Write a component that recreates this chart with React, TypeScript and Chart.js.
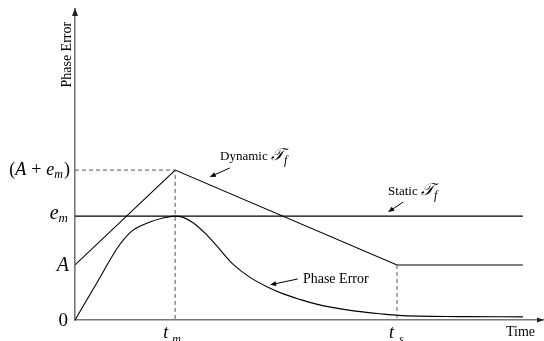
import React, { useEffect, useRef } from "react";
import { Chart, registerables } from "chart.js";

Chart.register(...registerables);

// Axis extents (arbitrary schematic units)
const X_MIN = 0;
const X_MAX = 100;
const Y_MIN = 0;
const Y_MAX = 100;

// Key instants on the time axis
const tm = 21.4;
const ts = 68.8;
const tEnd = 95.7;

// Key levels on the phase-error axis
const A = 17.7;
const em = 33.4;
const Aem = 48.2;

// Dynamic threshold
const dynamicX = [0, tm, ts, tEnd];
const dynamicY = [A, Aem, A, A];

// Static threshold
const staticX = [0, tEnd];
const staticY = [em, em];

// Phase error curve
const errX = [0, 4.5, 8.8, 10.3, 12.4, 16.0, 19.0, 21.4, 23.1, 25.3, 28.0, 30.3, 32.0, 33.8, 37.4, 41.0, 44.5, 48.1, 51.6, 58.8, 65.9, 69.1, 82.3, 95.7];
const errY = [0, 11.5, 22.6, 25.7, 28.9, 31.5, 32.9, 33.4, 33.0, 31.2, 27.6, 23.8, 20.8, 17.9, 13.7, 10.7, 8.4, 6.6, 5.1, 3.1, 1.9, 1.5, 1.1, 1.0];

// Dashed guides
const guideMX = [0, tm, tm];
const guideMY = [Aem, Aem, 0];
const guideSX = [ts, ts];
const guideSY = [A, 0];

const pts = (xs: number[], ys: number[]) => xs.map((x, i) => ({ x, y: ys[i] }));

const SERIF = "'Liberation Serif', 'DejaVu Serif', serif";

type Seg = { t: string; size: number; italic?: boolean; dy?: number; gap?: number };

function drawRich(ctx: CanvasRenderingContext2D, x: number, y: number, segs: Seg[], align: "left" | "right" | "center") {
  ctx.save();
  ctx.textBaseline = "alphabetic";
  ctx.textAlign = "left";
  let total = 0;
  const widths = segs.map((s) => {
    ctx.font = `${s.italic ? "italic " : ""}${s.size}px ${SERIF}`;
    const w = ctx.measureText(s.t).width + (s.gap || 0);
    total += w;
    return w;
  });
  let cx = align === "left" ? x : align === "right" ? x - total : x - total / 2;
  segs.forEach((s, i) => {
    ctx.font = `${s.italic ? "italic " : ""}${s.size}px ${SERIF}`;
    ctx.fillText(s.t, cx, y + (s.dy || 0));
    cx += widths[i];
  });
  ctx.restore();
}

function arrow(ctx: CanvasRenderingContext2D, x1: number, y1: number, x2: number, y2: number, len = 6, half = 2.5) {
  const ang = Math.atan2(y2 - y1, x2 - x1);
  ctx.save();
  ctx.strokeStyle = "#000";
  ctx.fillStyle = "#000";
  ctx.lineWidth = 1;
  ctx.beginPath();
  ctx.moveTo(x1, y1);
  ctx.lineTo(x2 - Math.cos(ang) * len * 0.6, y2 - Math.sin(ang) * len * 0.6);
  ctx.stroke();
  ctx.beginPath();
  ctx.moveTo(x2, y2);
  ctx.lineTo(x2 - Math.cos(ang) * len - Math.sin(ang) * half, y2 - Math.sin(ang) * len + Math.cos(ang) * half);
  ctx.lineTo(x2 - Math.cos(ang) * len + Math.sin(ang) * half, y2 - Math.sin(ang) * len - Math.cos(ang) * half);
  ctx.closePath();
  ctx.fill();
  ctx.restore();
}

const CAL_T = "\u{1D4AF}";

const overlay = {
  id: "overlay",
  afterDraw(chart: any) {
    const ctx: CanvasRenderingContext2D = chart.ctx;
    const xs = chart.scales.x;
    const ys = chart.scales.y;
    const px = (v: number) => xs.getPixelForValue(v);
    const py = (v: number) => ys.getPixelForValue(v);
    const area = chart.chartArea;

    // axis arrows
    ctx.save();
    ctx.fillStyle = "#222";
    ctx.beginPath();
    ctx.moveTo(area.left, area.top - 1);
    ctx.lineTo(area.left - 3, area.top + 7);
    ctx.lineTo(area.left + 3, area.top + 7);
    ctx.closePath();
    ctx.fill();
    ctx.beginPath();
    ctx.moveTo(area.right + 1, area.bottom);
    ctx.lineTo(area.right - 6, area.bottom - 2.5);
    ctx.lineTo(area.right - 6, area.bottom + 2.5);
    ctx.closePath();
    ctx.fill();
    ctx.restore();

    ctx.fillStyle = "#000";
    // y tick labels
    const rx = area.left - 7;
    drawRich(ctx, rx, py(0) + 6, [{ t: "0", size: 19 }], "right");
    drawRich(ctx, rx + 1, py(A) + 6, [{ t: "A", size: 20, italic: true }], "right");
    drawRich(ctx, rx, py(em) + 3, [
      { t: "e", size: 20, italic: true },
      { t: "m", size: 13, italic: true, dy: 3 },
    ], "right");
    drawRich(ctx, rx + 2, py(Aem) + 5, [
      { t: "(", size: 18 },
      { t: "A", size: 18, italic: true, gap: 5 },
      { t: "+", size: 18, gap: 5 },
      { t: "e", size: 18, italic: true },
      { t: "m", size: 12, italic: true, dy: 3, gap: 1 },
      { t: ")", size: 18 },
    ], "right");

    // x tick labels
    drawRich(ctx, px(tm) - 12, area.bottom + 18, [
      { t: "t", size: 18, italic: true, gap: 4 },
      { t: "m", size: 12, italic: true, dy: 5 },
    ], "left");
    drawRich(ctx, px(ts) - 8, area.bottom + 18, [
      { t: "t", size: 18, italic: true, gap: 5 },
      { t: "s", size: 12, italic: true, dy: 5 },
    ], "left");

    // axis titles
    drawRich(ctx, area.right - 37, area.bottom + 16, [{ t: "Time", size: 14 }], "left");
    ctx.save();
    ctx.translate(area.left - 4, py(85.3));
    ctx.rotate(-Math.PI / 2);
    drawRich(ctx, 0, 0, [{ t: "Phase Error", size: 14 }], "center");
    ctx.restore();

    // annotations
    drawRich(ctx, px(31.0), py(51.4), [
      { t: "Dynamic ", size: 13 },
      { t: CAL_T, size: 17, italic: true },
      { t: "f", size: 12, italic: true, dy: 4 },
    ], "left");
    arrow(ctx, px(33.1), py(48.9), px(28.8), py(46.0));

    drawRich(ctx, px(66.9), py(40.2), [
      { t: "Static ", size: 13 },
      { t: CAL_T, size: 17, italic: true },
      { t: "f", size: 12, italic: true, dy: 4 },
    ], "left");
    arrow(ctx, px(70.1), py(37.9), px(66.9), py(34.7));

    drawRich(ctx, px(48.7), py(11.9), [{ t: "Phase Error", size: 14 }], "left");
    arrow(ctx, px(47.6), py(13.2), px(41.7), py(11.3));
  },
};

export default function App() {
  const ref = useRef<HTMLCanvasElement | null>(null);
  useEffect(() => {
    if (!ref.current) return;
    const solid = { borderColor: "#000", borderWidth: 1.1, pointRadius: 0, tension: 0, fill: false };
    const dashed = { borderColor: "#555", borderWidth: 1, borderDash: [4, 3], pointRadius: 0, tension: 0, fill: false };
    const chart = new Chart(ref.current, {
      type: "line",
      data: {
        datasets: [
          { ...dashed, label: "guide tm", data: pts(guideMX, guideMY) },
          { ...dashed, label: "guide ts", data: pts(guideSX, guideSY) },
          { ...solid, label: "Dynamic", data: pts(dynamicX, dynamicY) },
          { ...solid, label: "Static", data: pts(staticX, staticY) },
          { ...solid, label: "Phase Error", data: pts(errX, errY), cubicInterpolationMode: "monotone" },
        ] as any,
      },
      options: {
        animation: false,
        responsive: false,
        devicePixelRatio: 1,
        layout: { padding: { top: 9, right: 1, left: 0, bottom: 0 } },
        plugins: { legend: { display: false }, tooltip: { enabled: false }, title: { display: false } },
        scales: {
          x: {
            type: "linear",
            min: X_MIN,
            max: X_MAX,
            grid: { display: false },
            ticks: { display: false },
            border: { display: true, color: "#777", width: 1.6 },
            afterFit: (s: any) => { s.height = 21; },
          },
          y: {
            type: "linear",
            min: Y_MIN,
            max: Y_MAX,
            grid: { display: false },
            ticks: { display: false },
            border: { display: true, color: "#777", width: 1.6 },
            afterFit: (s: any) => { s.width = 75; },
          },
        },
      } as any,
      plugins: [overlay],
    });
    return () => chart.destroy();
  }, []);
  return (
    <div style={{ position: "fixed", left: 0, top: 0, width: 544, height: 341, background: "#fff" }}>
      <canvas ref={ref} width={544} height={341} style={{ width: 544, height: 341, display: "block" }} />
    </div>
  );
}
